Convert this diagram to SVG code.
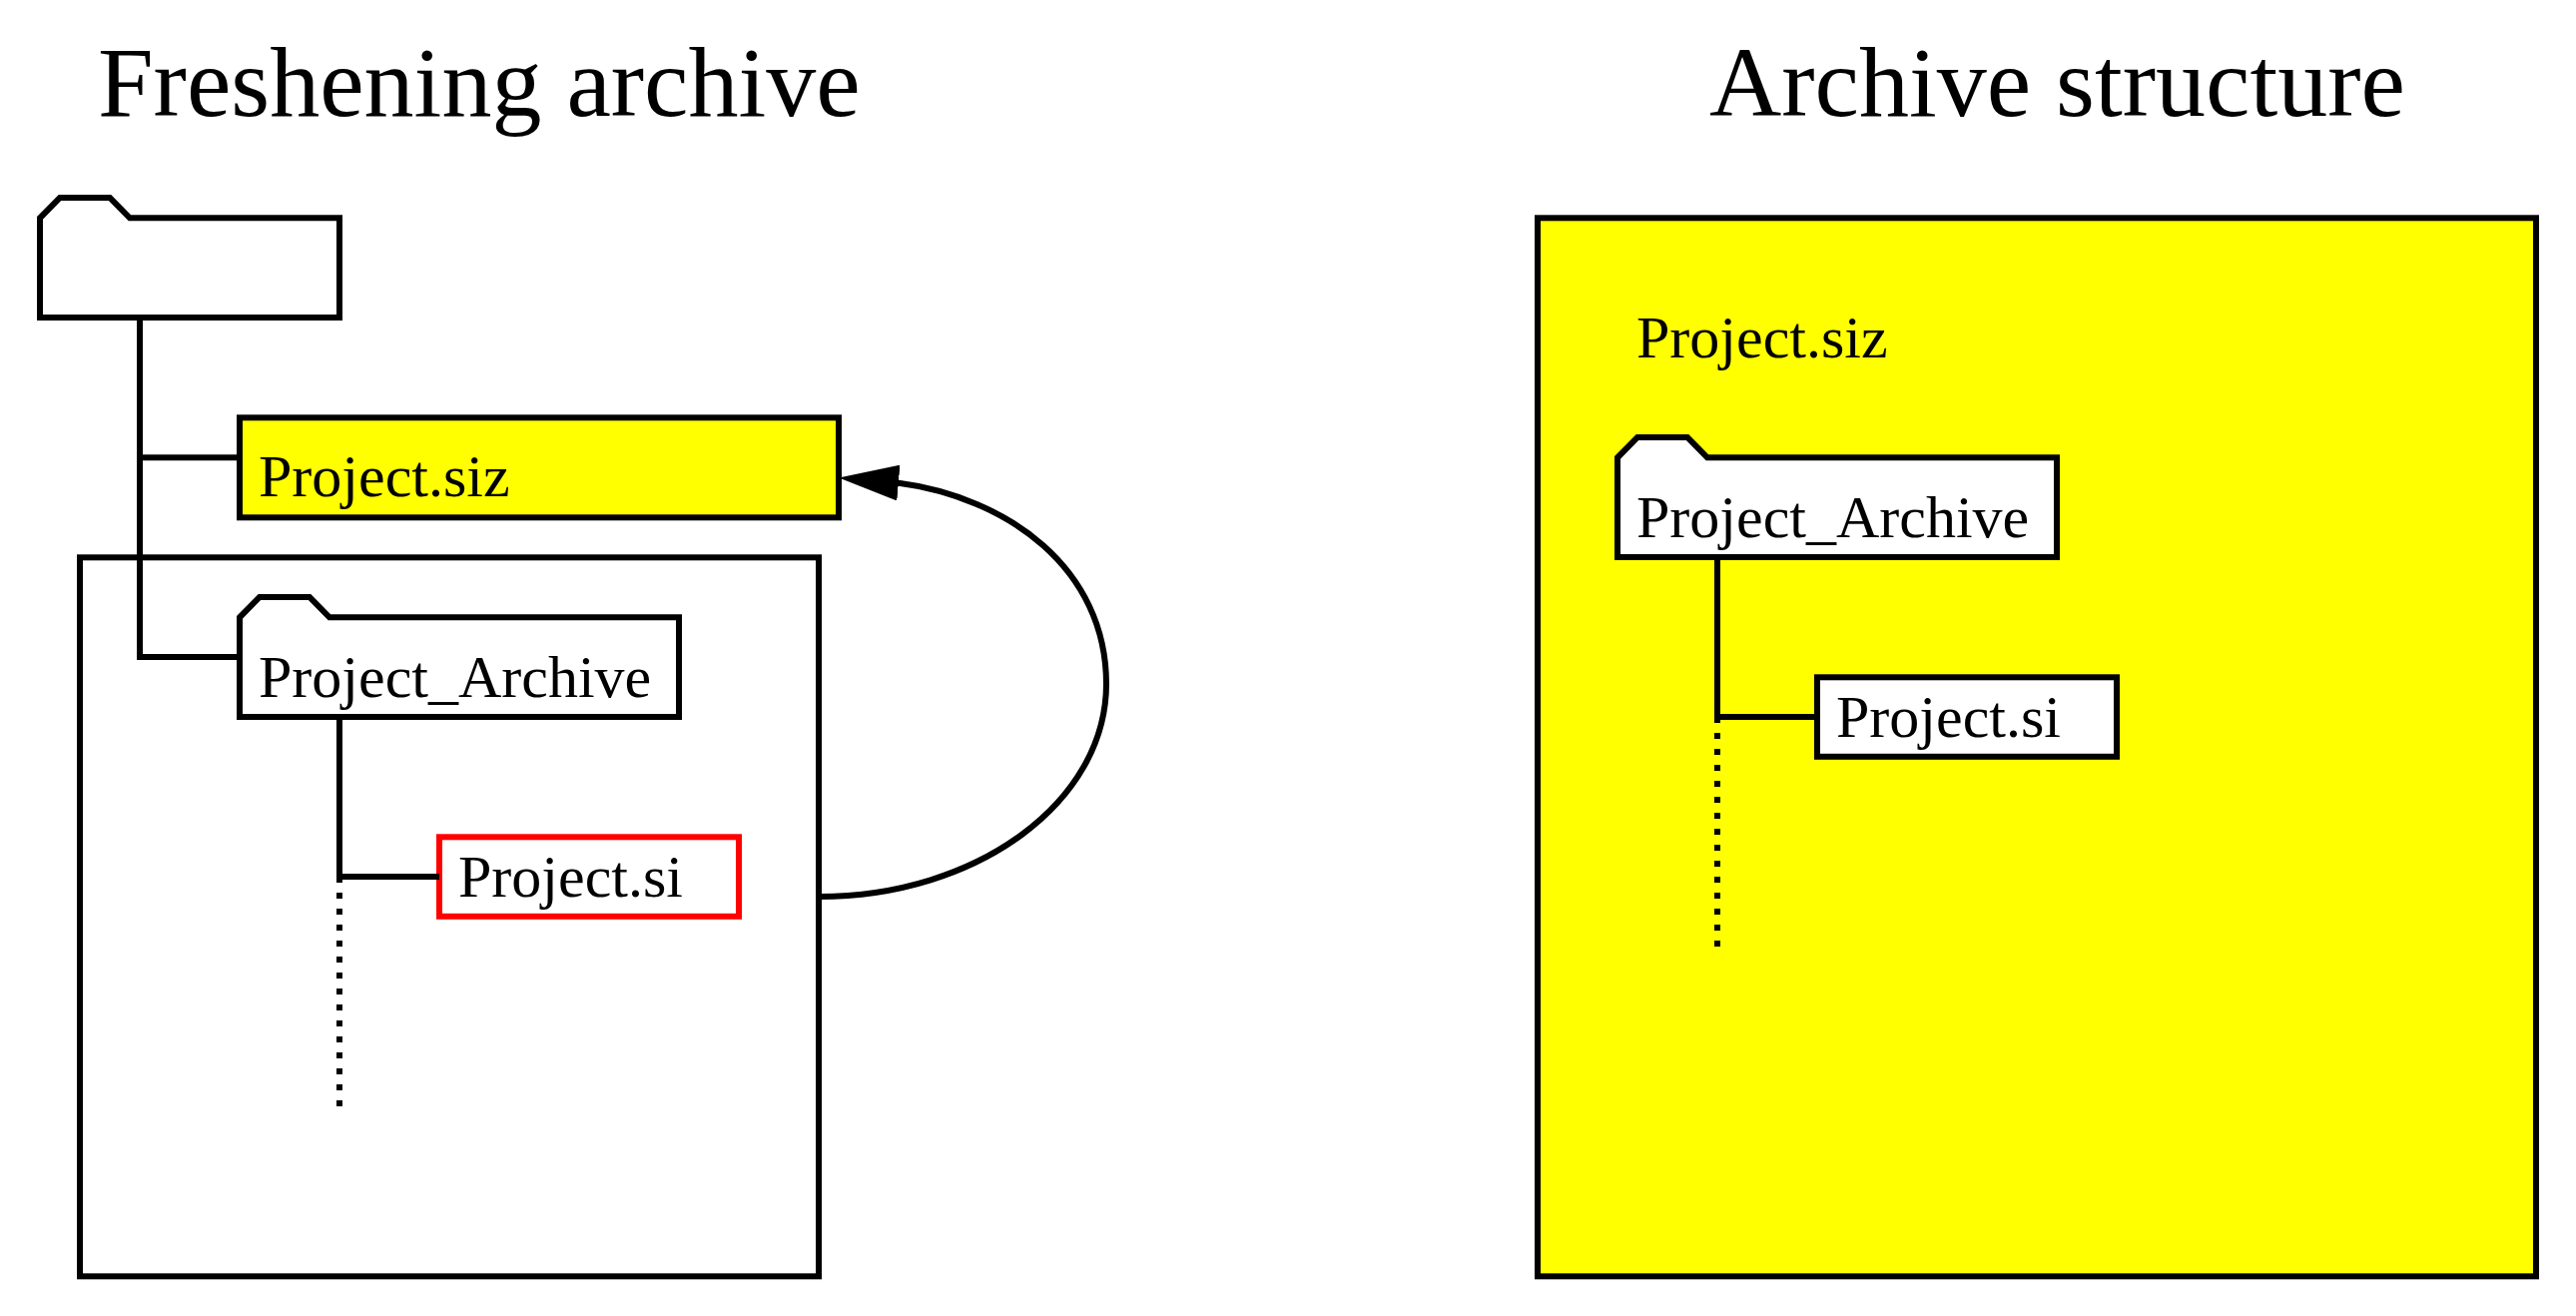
<svg xmlns="http://www.w3.org/2000/svg" width="2580" height="1318" viewBox="0 0 2580 1318">
  <style>
    text { font-family: "Liberation Serif", "Times New Roman", serif; fill: #000; }
    .title { font-size: 100px; }
    .label { font-size: 60px; }
    .box { fill: #fff; stroke: #000; stroke-width: 6; stroke-linejoin: miter; }
    .yellow { fill: #ff0; }
    .red { stroke: #f00; }
    .conn { fill: none; stroke: #000; stroke-width: 6; stroke-linejoin: miter; }
    .dots { stroke-dasharray: 6 10; }
  </style>
  <defs>
    <marker id="arrow" markerUnits="userSpaceOnUse" markerWidth="60" markerHeight="36" viewBox="0 0 60 36" refX="30" refY="18" orient="auto">
      <path d="M0,0 L60,18 L0,36 Z" fill="#000"/>
    </marker>
  </defs>
  <rect width="2580" height="1318" fill="#fff"/>
  <text id="title-freshening" class="title" x="98" y="116">Freshening archive</text>
  <text id="title-structure" class="title" x="1712" y="116">Archive structure</text>

  <g id="archive-outline"><rect class="box" x="80" y="558.300" width="740" height="720"/></g>
  <g id="archive-structure"><rect class="box yellow" x="1540" y="218.300" width="1000" height="1060"/></g>

  <g id="root-folder"><path class="box" d="M40,318 V218.300 L60,198 H110 L130,218.300 H340 V318 Z"/></g>
  <g id="project-siz-left">
    <rect class="box yellow" x="240" y="418.300" width="600" height="100"/>
    <text class="label" x="259" y="497">Project.siz</text>
  </g>
  <g id="project-archive-left">
    <path class="box" d="M240,718 V618.300 L260,598 H310 L330,618.300 H680 V718 Z"/>
    <text class="label" x="259" y="698">Project_Archive</text>
  </g>
  <g id="project-si-left">
    <rect class="box red" x="440" y="838.300" width="300" height="79.500"/>
    <text class="label" x="459" y="898">Project.si</text>
  </g>
  <g id="project-siz-right">
    <text class="label" x="1639" y="358">Project.siz</text>
  </g>
  <g id="project-archive-right">
    <path class="box" d="M1620,558 V458.300 L1640,438 H1690 L1710,458.300 H2060 V558 Z"/>
    <text class="label" x="1639" y="538">Project_Archive</text>
  </g>
  <g id="project-si-right">
    <rect class="box" x="1820" y="678.300" width="300" height="79.500"/>
    <text class="label" x="1839" y="738">Project.si</text>
  </g>

  <g id="connectors">
    <path class="conn" d="M140,318 V658 H240"/>
    <path class="conn" d="M140,458.300 H240"/>
    <path class="conn" d="M340,718 V878 H440"/>
    <path class="conn dots" d="M340,878 V1108"/>
    <path class="conn" d="M1720,558 V718 H1820"/>
    <path class="conn dots" d="M1720,718 V948"/>
    <path class="conn" marker-end="url(#arrow)" d="M820,898 C979,898 1108,803 1108,685 C1108,570 1010,498 898.6,483.5 L870,481"/>
  </g>
</svg>
